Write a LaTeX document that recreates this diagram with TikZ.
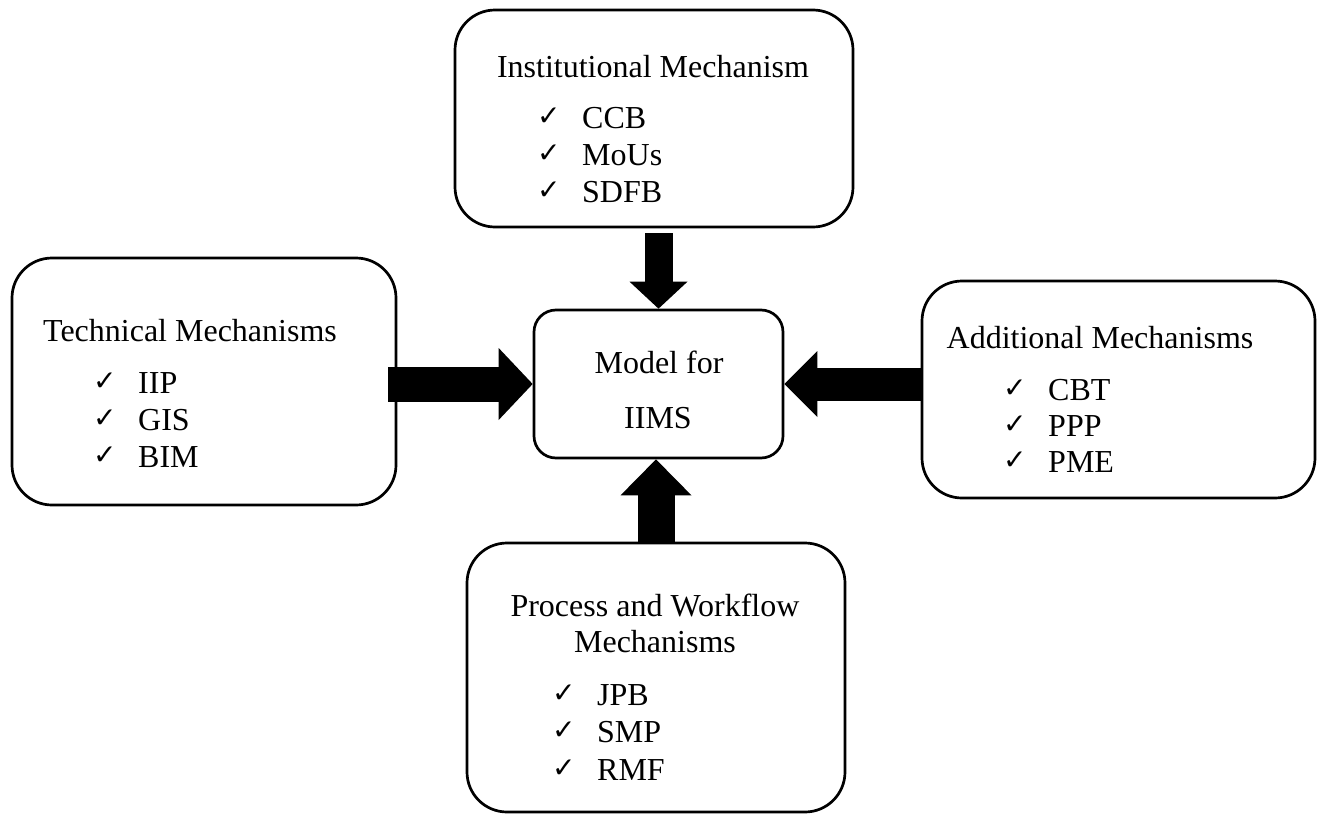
\documentclass[tikz,border=0pt]{standalone}
\usepackage{fontspec}
\setmainfont{Liberation Serif}
\newfontfamily\dejavu{DejaVu Sans}
\usetikzlibrary{arrows.meta,calc}
\newcommand{\chk}{\makebox[45pt][l]{\raisebox{3pt}{\dejavu\fontsize{28}{28}\selectfont ✓}}}
\tikzset{
  mech/.style = {draw=black, line width=2.7pt, rounded corners=40pt, inner sep=0pt},
  hub/.style  = {draw=black, line width=2.7pt, rounded corners=22pt, inner sep=0pt},
  ttl/.style  = {font=\fontsize{32}{37}\selectfont, inner sep=0pt, anchor=base},
  itm/.style  = {font=\fontsize{32}{37}\selectfont, inner sep=0pt, anchor=base west},
  blk/.style args = {#1/#2/#3}{draw=black, line width=#1,
                  -{Triangle[width=#2, length=#3, line width=0pt]}},
}
\begin{document}
\begin{tikzpicture}[x=1pt, y=-1pt]
  \useasboundingbox (0,0) rectangle (1318,814);
  \node[mech, minimum width=398pt, minimum height=217pt] (inst) at (654,118.5) {};
  \node[mech, minimum width=384pt, minimum height=247pt] (tech) at (204,381.5) {};
  \node[mech, minimum width=393pt, minimum height=217pt] (addl) at (1118.5,389.5) {};
  \node[mech, minimum width=378pt, minimum height=269pt] (proc) at (656,677.5) {};
  \node[hub, minimum width=249pt, minimum height=148pt] (model) at (658.5,384) {};

  \node[ttl] (model-a) at (659,373) {Model for};
  \node[ttl] (model-b) at (658,428) {IIMS};

  \node[ttl] (inst-t) at (653,77) {Institutional Mechanism};
  \foreach \t [count=\i from 0] in {CCB,MoUs,SDFB}
    \node[itm] (inst-\i) at (537,{128+37*\i}) {\chk\t};

  \node[ttl] (tech-t) at (190,341) {Technical Mechanisms};
  \foreach \t [count=\i from 0] in {IIP,GIS,BIM}
    \node[itm] (tech-\i) at (93,{393+37*\i}) {\chk\t};

  \node[ttl] (addl-t) at (1100,348) {Additional Mechanisms};
  \foreach \t [count=\i from 0] in {CBT,PPP,PME}
    \node[itm] (addl-\i) at (1003,{400+36*\i}) {\chk\t};

  \node[ttl] (proc-t) at (655,616) {Process and Workflow};
  \node[ttl] (proc-u) at (655,652) {Mechanisms};
  \foreach \t [count=\i from 0] in {JPB,SMP,RMF}
    \node[itm] (proc-\i) at (552,{705+37.5*\i}) {\chk\t};

  \draw[blk=28pt/58pt/27pt, shorten <=5pt] (model.north |- inst.south) -- (model.north);
  \draw[blk=35pt/72pt/34pt, shorten <=-9pt] (tech.east |- model.west) -- (model.west);
  \draw[blk=33pt/66pt/33pt] (addl.west |- model.east) -- (model.east);
  \draw[blk=37pt/71pt/36pt] (proc.north) -- (proc.north |- model.south);
\end{tikzpicture}
\end{document}
